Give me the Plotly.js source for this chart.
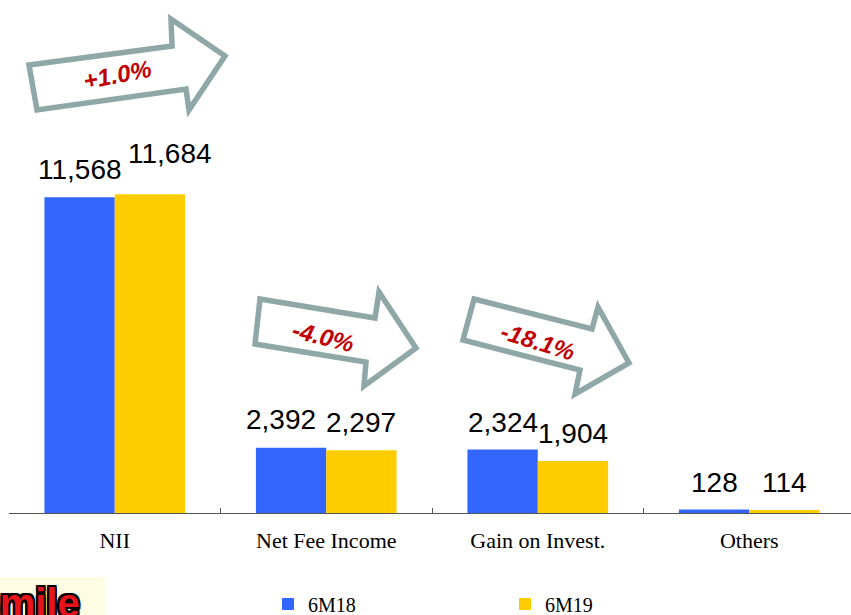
<!DOCTYPE html>
<html>
<head>
<meta charset="utf-8">
<script src="https://cdn.plot.ly/plotly-3.0.1.min.js"></script>
<style>html,body{margin:0;padding:0;overflow:hidden;background:#fff}#chart{width:851px;height:615px}</style>
</head>
<body>
<div id="chart"></div>
<script>
const categories = ['NII', 'Net Fee Income', 'Gain on Invest.', 'Others'];
const seriesNames = ['6M18', '6M19'];
const values6M18 = [11568, 2392, 2324, 128];
const values6M19 = [11684, 2297, 1904, 114];
const changeLabels = ['+1.0%', '-4.0%', '-18.1%'];

const W = 851, H = 615, ML = 9, MB = 102, PW = W - ML, PH = H - MB;
const px = x => (x - ML) / PW;
const py = y => (PH - y) / PH;
const pathOf = pts => pts.map((p, i) => (i ? 'L' : 'M') + px(p[0]).toFixed(5) + ',' + py(p[1]).toFixed(5)).join(' ') + ' Z';

const fmt = v => v.toLocaleString('en-US');
const blue = '#3366FF', yellow = '#FFCC00';

const traces = [
  {type: 'bar', name: seriesNames[0], x: categories, y: values6M18, marker: {color: blue}, hoverinfo: 'none'},
  {type: 'bar', name: seriesNames[1], x: categories, y: values6M19, marker: {color: yellow}, hoverinfo: 'none'}
];

const annotations = [];
const valueFont = {family: 'Liberation Sans, Arial, sans-serif', size: 28, color: '#000'};
[values6M18, values6M19].forEach((arr, s) => {
  arr.forEach((v, i) => {
    let xs = s === 0 ? -35.2 : 35.2, ys = 10;
    // overlap avoidance for crowded labels (as in original)
    if (s === 1 && i === 0) { xs += 20; ys += 13; }
    if (s === 0 && i === 1) { xs -= 10; ys += 1; }
    annotations.push({x: categories[i], y: v, xref: 'x', yref: 'y', text: fmt(v), showarrow: false,
      xanchor: 'center', yanchor: 'bottom', xshift: xs, yshift: ys, font: valueFont});
  });
});

// block arrows (decorative)
const arrowPaths = [
  [[29,65],[172,46],[171,19],[225,56],[189,110],[186,89],[37,110]],
  [[260,299],[375,318],[379,292],[416,348],[364,386],[366,362],[255,344]],
  [[474,299],[592,329],[598,307],[629,363],[575,394],[580,370],[463,340]]
];
const arrowText = [[118,74,-11],[323,336,14],[538,341,17]];
const shapes = arrowPaths.map(p => ({type: 'path', xref: 'paper', yref: 'paper', path: pathOf(p),
  line: {color: '#8FA7A7', width: 5.5}, fillcolor: '#FFFFFF', layer: 'above'}));
changeLabels.forEach((t, i) => {
  annotations.push({xref: 'paper', yref: 'paper', x: px(arrowText[i][0]), y: py(arrowText[i][1]), text: '<b><i>' + t + '</i></b>',
    showarrow: false, textangle: arrowText[i][2], xanchor: 'center', yanchor: 'middle',
    font: {family: 'Liberation Sans, Arial, sans-serif', size: 24, color: '#C00000'}});
});

// logo fragment bottom-left
shapes.push({type: 'rect', xref: 'paper', yref: 'paper', x0: px(-2), x1: px(105), y0: py(620), y1: py(577),
  fillcolor: '#FFFCE4', line: {width: 0}, layer: 'below'});
annotations.push({xref: 'paper', yref: 'paper', x: px(82), y: py(627), xanchor: 'right', yanchor: 'bottom', showarrow: false,
  text: '<b>Smile</b>', font: {family: 'Liberation Sans, Arial, sans-serif', size: 40, color: '#E8141B',
  shadow: '-2px -2px 0 #000, 2px -2px 0 #000, -2px 2px 0 #000, 2px 2px 0 #000, 0 2px 0 #000, 2px 0 0 #000, 0 -2px 0 #000, -2px 0 0 #000'}});

const layout = {
  width: W, height: H,
  margin: {l: ML, r: 0, t: 0, b: MB, autoexpand: false},
  paper_bgcolor: '#fff', plot_bgcolor: '#fff',
  barmode: 'group', bargap: 0.335, bargroupgap: 0,
  showlegend: true,
  legend: {orientation: 'h', x: px(268), y: py(604), xanchor: 'left', yanchor: 'middle', entrywidth: 192,
    font: {family: 'Liberation Serif, Times New Roman, serif', size: 20, color: '#000'}, bgcolor: 'rgba(0,0,0,0)'},
  xaxis: {type: 'category', range: [-0.5, 3.481], showline: true, linecolor: '#555', linewidth: 1,
    ticks: 'inside', tickson: 'boundaries', ticklen: 5, tickcolor: '#555', showgrid: false, zeroline: false,
    ticklabelstandoff: 8,
    tickfont: {family: 'Liberation Serif, Times New Roman, serif', size: 22, color: '#000'}, fixedrange: true},
  yaxis: {visible: false, range: [0, 18800], fixedrange: true},
  shapes: shapes,
  annotations: annotations
};

Plotly.newPlot('chart', traces, layout, {staticPlot: true, displayModeBar: false});
</script>
</body>
</html>
